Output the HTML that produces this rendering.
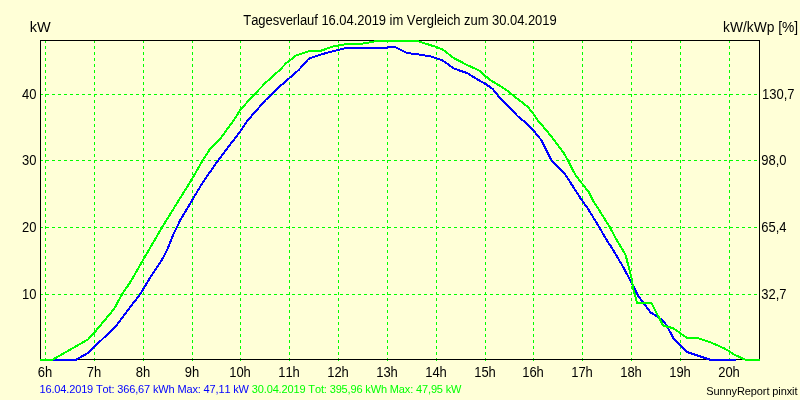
<!DOCTYPE html>
<html><head><meta charset="utf-8"><title>Tagesverlauf</title>
<style>
html,body{margin:0;padding:0;background:#FFFFD7;}
svg{display:block}
text{font-kerning:none;font-family:"Liberation Sans",Arial,sans-serif;font-size:13px;fill:#000}
.s{font-size:11px}
</style></head><body>
<svg width="800" height="400" viewBox="0 0 800 400">
<rect x="0" y="0" width="800" height="400" fill="#FFFFD7"/>
<g shape-rendering="crispEdges" fill="none">
<g stroke="#00FF00" stroke-width="1" stroke-dasharray="3 3">
<line x1="45.5" y1="40" x2="45.5" y2="361"/>
<line x1="94.5" y1="40" x2="94.5" y2="361"/>
<line x1="143.5" y1="40" x2="143.5" y2="361"/>
<line x1="192.5" y1="40" x2="192.5" y2="361"/>
<line x1="240.5" y1="40" x2="240.5" y2="361"/>
<line x1="289.5" y1="40" x2="289.5" y2="361"/>
<line x1="338.5" y1="40" x2="338.5" y2="361"/>
<line x1="387.5" y1="40" x2="387.5" y2="361"/>
<line x1="436.5" y1="40" x2="436.5" y2="361"/>
<line x1="485.5" y1="40" x2="485.5" y2="361"/>
<line x1="533.5" y1="40" x2="533.5" y2="361"/>
<line x1="582.5" y1="40" x2="582.5" y2="361"/>
<line x1="631.5" y1="40" x2="631.5" y2="361"/>
<line x1="680.5" y1="40" x2="680.5" y2="361"/>
<line x1="729.5" y1="40" x2="729.5" y2="361"/>
<line x1="40" y1="94.5" x2="760" y2="94.5"/>
<line x1="40" y1="160.5" x2="760" y2="160.5"/>
<line x1="40" y1="227.5" x2="760" y2="227.5"/>
<line x1="40" y1="294.5" x2="760" y2="294.5"/>
</g>
<rect x="40.5" y="40.5" width="719" height="319" stroke="#000" stroke-width="1"/>
<polyline points="40,360 75.5,360 88,353 116,326 128,310 140,294.4 149,279.5 163,258 167.3,249.4 173.3,234.4 177,227.2 180,220.6 192,200.4 203,182 218,160.6 226,150 240.6,131 248,120 265.6,100 271.25,94.4 278,88 290.7,77 298.7,70 308.6,58.8 321,54.4 338,50 346,47.9 387,47.9 388,47 395,47 407,52.9 418,54.4 430,56.25 442.5,60.3 453.75,68.5 467,73 479.4,80.6 485.6,84 492.5,88.75 498,95.6 509.4,107 517.5,116 526,123 532,128.75 541.25,140 550.6,158.75 552,160.6 560,168.75 565.6,175 581.25,199.4 588,208.75 599.4,227.5 607,240.6 612,248 623.75,268 630,280 635,289.4 638,295.6 650.6,312.5 658,317 663,320.6 667.5,327 673.75,338.75 687,352 711,360 735.6,360" stroke="#0000FF" stroke-width="2" stroke-linejoin="round"/>
<polyline points="40,360 52,360 88,339.5 94,333 114,309 122,294.4 131,281 143.6,259 162,227.4 179,200 192,179 202.6,160.6 210,149 220,139 234,120 240.6,109.4 254.4,94.4 265.8,82.5 279.8,70 286.3,63 289.8,60.6 296.3,55.3 308.5,51.4 320,51.1 333,46.5 346,44.2 362.5,43.6 370,42.4 376,41 417.5,41 436.25,47 442.5,49.4 453.75,58 467,65 479.4,70.6 485.6,76.25 491.25,80.6 505.6,89.4 510,93 528,107 533.75,114.4 538,120.6 545.6,129.4 551.25,136.25 563.75,153 568,160.6 572.5,169.4 576.25,176.25 588.75,192 593,200.6 598.75,209.4 610,227.5 617,240.6 622,248.75 625.6,255 632,280 633,288 637,302.75 651.25,302.75 662.5,324.4 663,325.6 672.5,328 675,329.4 687,338 697.5,338 711,342.5 725,348.75 735,355 746,360 760,360" stroke="#00FF00" stroke-width="2" stroke-linejoin="round"/>
</g>
<text transform="translate(400 25) scale(1 1.07)" text-anchor="middle" textLength="313.4">Tagesverlauf 16.04.2019 im Vergleich zum 30.04.2019</text>
<text transform="translate(29.8 32) scale(1 1.07)" textLength="20.9" lengthAdjust="spacingAndGlyphs">kW</text>
<text transform="translate(723 32) scale(1 1.07)" textLength="75.2" lengthAdjust="spacingAndGlyphs">kW/kWp [%]</text>
<text transform="translate(36.5 99) scale(1 1.07)" text-anchor="end">40</text>
<text transform="translate(762 99) scale(1 1.07)">130,7</text>
<text transform="translate(36.5 165) scale(1 1.07)" text-anchor="end">30</text>
<text transform="translate(761.2 165) scale(1 1.07)">98,0</text>
<text transform="translate(36.5 232) scale(1 1.07)" text-anchor="end">20</text>
<text transform="translate(761.2 232) scale(1 1.07)">65,4</text>
<text transform="translate(36.5 299) scale(1 1.07)" text-anchor="end">10</text>
<text transform="translate(761.2 299) scale(1 1.07)">32,7</text>
<text transform="translate(45 377) scale(1 1.07)" text-anchor="middle">6h</text>
<text transform="translate(94 377) scale(1 1.07)" text-anchor="middle">7h</text>
<text transform="translate(143 377) scale(1 1.07)" text-anchor="middle">8h</text>
<text transform="translate(192 377) scale(1 1.07)" text-anchor="middle">9h</text>
<text transform="translate(240 377) scale(1 1.07)" text-anchor="middle">10h</text>
<text transform="translate(289 377) scale(1 1.07)" text-anchor="middle">11h</text>
<text transform="translate(338 377) scale(1 1.07)" text-anchor="middle">12h</text>
<text transform="translate(387 377) scale(1 1.07)" text-anchor="middle">13h</text>
<text transform="translate(436 377) scale(1 1.07)" text-anchor="middle">14h</text>
<text transform="translate(485 377) scale(1 1.07)" text-anchor="middle">15h</text>
<text transform="translate(533 377) scale(1 1.07)" text-anchor="middle">16h</text>
<text transform="translate(582 377) scale(1 1.07)" text-anchor="middle">17h</text>
<text transform="translate(631 377) scale(1 1.07)" text-anchor="middle">18h</text>
<text transform="translate(680 377) scale(1 1.07)" text-anchor="middle">19h</text>
<text transform="translate(729 377) scale(1 1.07)" text-anchor="middle">20h</text>
<text class="s" x="39.5" y="392.8" style="fill:#0000FF" textLength="209.5">16.04.2019 Tot: 366,67 kWh Max: 47,11 kW</text>
<text class="s" x="251.8" y="392.8" style="fill:#00FF00" textLength="209.7">30.04.2019 Tot: 395,96 kWh Max: 47,95 kW</text>
<text class="s" x="797.5" y="394.6" text-anchor="end" textLength="91.3">SunnyReport pinxit</text>
</svg></body></html>
